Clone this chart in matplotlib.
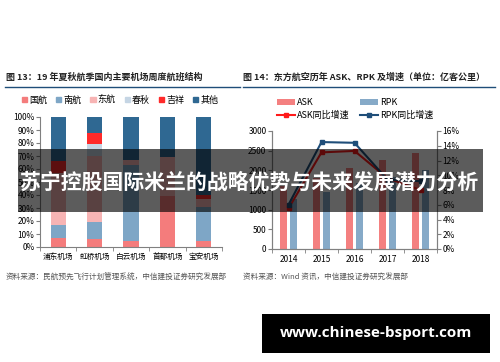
import matplotlib
matplotlib.use("Agg")
import matplotlib.pyplot as plt
import numpy as np
from matplotlib.patches import Patch, Rectangle
from matplotlib.lines import Line2D
from matplotlib.ticker import FuncFormatter

plt.rcParams['font.family'] = ['Noto Sans CJK SC', 'DejaVu Sans']

# ---- left chart data: share of weekly flights (%)
airports = ["浦东机场", "虹桥机场", "白云机场", "首都机场", "宝安机场"]
carriers = ["国航", "南航", "东航", "春秋", "吉祥", "其他"]
guohang = [7, 6, 5, 39, 5]
nanhang = [10, 13, 58, 0, 26]
donghang = [40, 51, 4, 30, 6]
chunqiu = [0, 9, 0, 0, 0]
jixiang = [9, 9, 0, 0, 3]
qita = [34, 12, 33, 31, 60]
carrier_colors = ["#f47c7c", "#7ea6c6", "#f7b4b4", "#c5d5e4", "#ff2a2a", "#2f6892"]

# ---- right chart data: China Eastern ASK / RPK (亿客公里) and growth (%)
years = ["2014", "2015", "2016", "2017", "2018"]
ask = [1600, 1810, 2055, 2260, 2440]
rpk = [1280, 1460, 1670, 1840, 2005]
ask_growth = [5.5, 13.1, 13.3, 9.6, 8.0]
rpk_growth = [6.0, 14.5, 14.4, 9.4, 9.2]

W, H = 500, 362
fig = plt.figure(figsize=(W / 100, H / 100), dpi=100)
fig.patch.set_facecolor("white")


def fx(px):
    return px / W


def fy(py):
    return 1 - py / H


grey = "#808080"
tick_fs = 6

# titles and rules
fig.text(fx(6), fy(77), "图 13：19 年夏秋航季国内主要机场周度航班结构", fontsize=6.5,
         fontweight="bold", va="center", color="#222222")
fig.text(fx(243), fy(77), "图 14：东方航空历年 ASK、RPK 及增速（单位：亿客公里）", fontsize=6.5,
         fontweight="bold", va="center", color="#222222")
fig.add_artist(Line2D([fx(5), fx(240)], [fy(87), fy(87)], color="#1f4e79", lw=1.0))
fig.add_artist(Line2D([fx(243), fx(495)], [fy(87), fy(87)], color="#1f4e79", lw=1.0))

# ---- left chart
axl = fig.add_axes([fx(40), fy(247), fx(222) - fx(40), fy(117) - fy(247)])
x = np.arange(len(airports))
series = [guohang, nanhang, donghang, chunqiu, jixiang, qita]
bottom = np.zeros(len(airports))
for vals, col in zip(series, carrier_colors):
    axl.bar(x, vals, width=0.42, bottom=bottom, color=col)
    bottom += np.array(vals)
axl.set_xlim(-0.5, len(airports) - 0.5)
axl.set_ylim(0, 100)
axl.set_yticks(np.arange(0, 101, 10))
axl.yaxis.set_major_formatter(FuncFormatter(lambda v, p: f"{int(v)}%"))
axl.set_xticks(x)
axl.set_xticklabels(airports)
axl.set_xticks(np.arange(-0.5, len(airports), 1), minor=True)
axl.tick_params(axis="x", which="major", length=0, labelsize=5.5, pad=4)
axl.tick_params(axis="x", which="minor", length=3, color=grey)
axl.tick_params(axis="y", labelsize=tick_fs, length=3, color=grey, pad=1)
for s in ["top", "right"]:
    axl.spines[s].set_visible(False)
for s in ["left", "bottom"]:
    axl.spines[s].set_color(grey)
    axl.spines[s].set_linewidth(0.8)

handles = [Patch(color=c, label=l) for c, l in zip(carrier_colors, carriers)]
fig.legend(handles=handles, loc="center", bbox_to_anchor=(fx(120), fy(100)), ncol=6,
           frameon=False, fontsize=6.5, handlelength=0.6, handleheight=0.6,
           handletextpad=0.2, columnspacing=1.0)

# ---- right chart
axr = fig.add_axes([fx(272), fy(249), fx(437) - fx(272), fy(131) - fy(249)])
xr = np.arange(len(years))
bw = 0.22
axr.bar(xr - 0.15, ask, width=bw, color="#f48080", label="ASK")
axr.bar(xr + 0.15, rpk, width=bw, color="#86aac8", label="RPK")
axr.set_xlim(-0.5, len(years) - 0.5)
axr.set_ylim(0, 3000)
axr.set_yticks(np.arange(0, 3001, 500))
axr.set_xticks(xr)
axr.set_xticklabels(years)
axr.set_xticks(np.arange(-0.5, len(years), 1), minor=True)
axr.tick_params(axis="x", which="major", length=0, labelsize=tick_fs, pad=4)
axr.tick_params(axis="x", which="minor", length=3, color=grey)
axr.tick_params(axis="y", labelsize=tick_fs, length=3, color=grey, pad=1)
axr2 = axr.twinx()
axr2.plot(xr, ask_growth, color="#ff1a1a", lw=1.5, marker="s", ms=3, label="ASK同比增速")
axr2.plot(xr, rpk_growth, color="#1f4e79", lw=1.5, marker="s", ms=3, label="RPK同比增速")
axr2.set_ylim(0, 16)
axr2.set_yticks(np.arange(0, 17, 2))
axr2.yaxis.set_major_formatter(FuncFormatter(lambda v, p: f"{int(v)}%"))
axr2.tick_params(axis="y", labelsize=tick_fs, length=3, color=grey, pad=1)
for a in (axr, axr2):
    for s in ["top"]:
        a.spines[s].set_visible(False)
    for s in ["left", "bottom", "right"]:
        a.spines[s].set_color(grey)
        a.spines[s].set_linewidth(0.8)

h1, l1 = axr.get_legend_handles_labels()
h2, l2 = axr2.get_legend_handles_labels()
fig.legend([h1[0], h2[0], h1[1], h2[1]], [l1[0], l2[0], l1[1], l2[1]], loc="center",
           bbox_to_anchor=(fx(355), fy(109)), ncol=2, frameon=False, fontsize=6.5,
           handlelength=2.0, handletextpad=0.2, columnspacing=1.2, labelspacing=0.4)

# sources
fig.text(fx(6), fy(278), "资料来源：民航预先飞行计划管理系统，中信建投证券研究发展部", fontsize=5.5,
         style="italic", va="center", color="#555555")
fig.text(fx(243), fy(278), "资料来源：Wind 资讯，中信建投证券研究发展部", fontsize=5.5,
         style="italic", va="center", color="#555555")

# banner overlay
fig.add_artist(Rectangle((fx(18), fy(212)), fx(483) - fx(18), fy(149) - fy(212),
                         transform=fig.transFigure, color="black", alpha=0.64, lw=0, zorder=20))
fig.text(fx(250), fy(182), "苏宁控股国际米兰的战略优势与未来发展潜力分析", fontsize=15,
         fontweight="bold", color="white", ha="center", va="center", zorder=21)

# watermark
fig.add_artist(Rectangle((fx(262), fy(353)), fx(490) - fx(262), fy(314) - fy(353),
                         transform=fig.transFigure, color="black", lw=0, zorder=20))
fig.text(fx(376), fy(333), "www.chinese-bsport.com", fontsize=11, fontweight="bold",
         family="Open Sans", color="white", ha="center", va="center", zorder=21)

fig.savefig("out.png", dpi=100)
